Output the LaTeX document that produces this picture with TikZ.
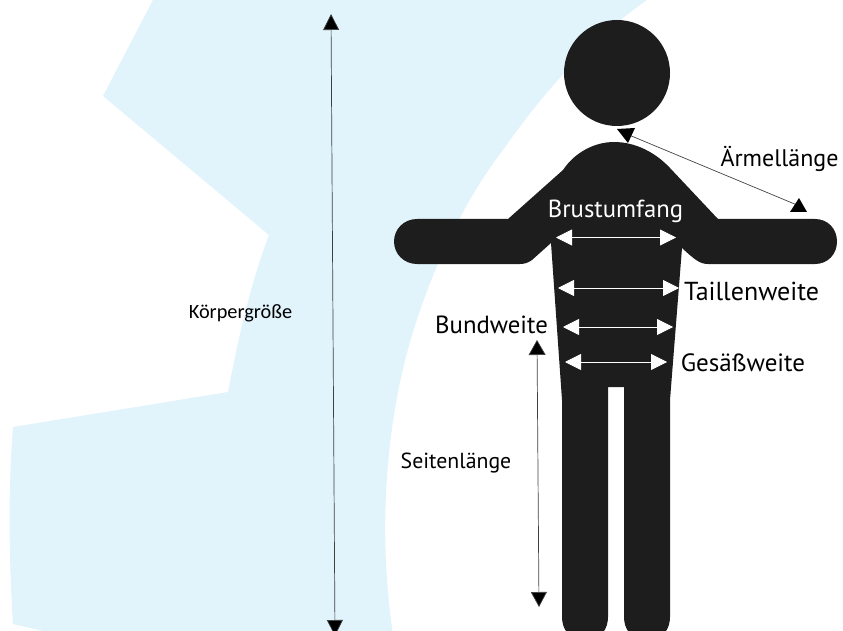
\documentclass[tikz,border=0pt]{standalone}
\usepackage{fontspec}
\setmainfont{PT Sans}
\newfontfamily\kfont{Carlito}
\usetikzlibrary{arrows.meta}
\definecolor{bgblue}{HTML}{E1F3FB}
\definecolor{figblack}{HTML}{1D1D1D}
\newcommand{\fs}[1]{\fontsize{#1}{#1}\selectfont}
\tikzset{
  lab/.style={inner sep=0pt,anchor=base,text=black},
  wlab/.style={lab,text=white},
  wide/.style={draw=white,line width=.8pt,{Triangle[length=16pt,width=16pt,fill=white]}-{Triangle[length=16pt,width=16pt,fill=white]}},
  dim/.style={draw=black!75,line width=.7pt},
}
\begin{document}
\begin{tikzpicture}[x=1pt,y=-1pt]
\useasboundingbox (0,0) rectangle (843,631);
% background
\clip (0,0) rectangle (843,631);
\fill[bgblue] (153,0) -- (103,96) -- (269,235)
  .. controls (250,285) and (238,340) .. (228,392)
  -- (13,427) .. controls (8,490) and (9,560) .. (13,624)
  -- (60,635) -- (393,635)
  .. controls (382,560) and (382,480) .. (397,397)
  .. controls (415,300) and (460,205) .. (503,150)
  .. controls (545,90) and (590,40) .. (647,0) -- cycle;
% figure
\fill[figblack] (617,73) circle[radius=53];
\fill[figblack] (614,142)
  .. controls (635,142) and (655,152) .. (670,168)
  -- (718,219) -- (815,219)
  .. controls (828,219) and (837,229) .. (837,241.5)
  .. controls (837,254) and (828,264) .. (815,264)
  -- (708,264) .. controls (700,264) and (695,260) .. (682,248)
  -- (670,400) -- (670,617)
  .. controls (670,628) and (664,640) .. (647,640)
  .. controls (630,640) and (624,628) .. (624,617)
  -- (624,387) -- (608,387) -- (608,617)
  .. controls (608,628) and (602,640) .. (585,640)
  .. controls (568,640) and (562,628) .. (562,617)
  -- (562,400) -- (551,243)
  -- (532,260) .. controls (528,263) and (524,264) .. (520,264)
  -- (417,264)
  .. controls (404,264) and (394,254) .. (394,241.5)
  .. controls (394,229) and (404,219) .. (417,219)
  -- (508,219) -- (563,170)
  .. controls (575,152) and (595,142) .. (614,142) -- cycle;
% dimension coordinates
\coordinate (kT) at (331,14);
\coordinate (kB) at (335,636);
\coordinate (sT) at (537,340);
\coordinate (sB) at (539,607);
\coordinate (aT) at (629,135);
\coordinate (aB) at (797,205);
\draw[dim,{Triangle[length=16pt,width=16pt,fill=black]}-{Triangle[length=16pt,width=16pt,fill=black]}] (kT) -- (kB);
\draw[dim,{Triangle[length=15pt,width=17pt,fill=black]}-{Triangle[length=15pt,width=16pt,fill=black]}] (sT) -- (sB);
\draw[dim] (aT) -- (aB);
\fill[black] (617,129) -- (635,128) -- (628,143) -- cycle;
\fill[black] (799,198) -- (807,212) -- (790,212) -- cycle;
% white widths
\coordinate (b1) at (556,237.5); \coordinate (b2) at (676,237.5);
\coordinate (t1) at (558,288); \coordinate (t2) at (679,288);
\coordinate (u1) at (563,327); \coordinate (u2) at (673,327);
\coordinate (g1) at (565,362); \coordinate (g2) at (667,362);
\draw[wide] (b1) -- (b2);
\draw[wide] (t1) -- (t2);
\draw[wide] (u1) -- (u2);
\draw[wide] (g1) -- (g2);
% labels
\node[lab,font=\kfont\fs{20.3}] (lk) at (240.5,318) {Körpergröße};
\node[wlab,font=\fs{24.7}] (lb) at (615.5,218) {Brustumfang};
\node[lab,font=\fs{24}] (la) at (779.5,167) {Ärmellänge};
\node[lab,font=\fs{26}] (lt) at (751.5,300) {Taillenweite};
\node[lab,font=\fs{24.8}] (lu) at (491.5,333) {Bundweite};
\node[lab,font=\fs{25}] (lg) at (743,371) {Gesäßweite};
\node[lab,font=\fs{21.8}] (ls) at (456,468) {Seitenlänge};
\end{tikzpicture}
\end{document}
